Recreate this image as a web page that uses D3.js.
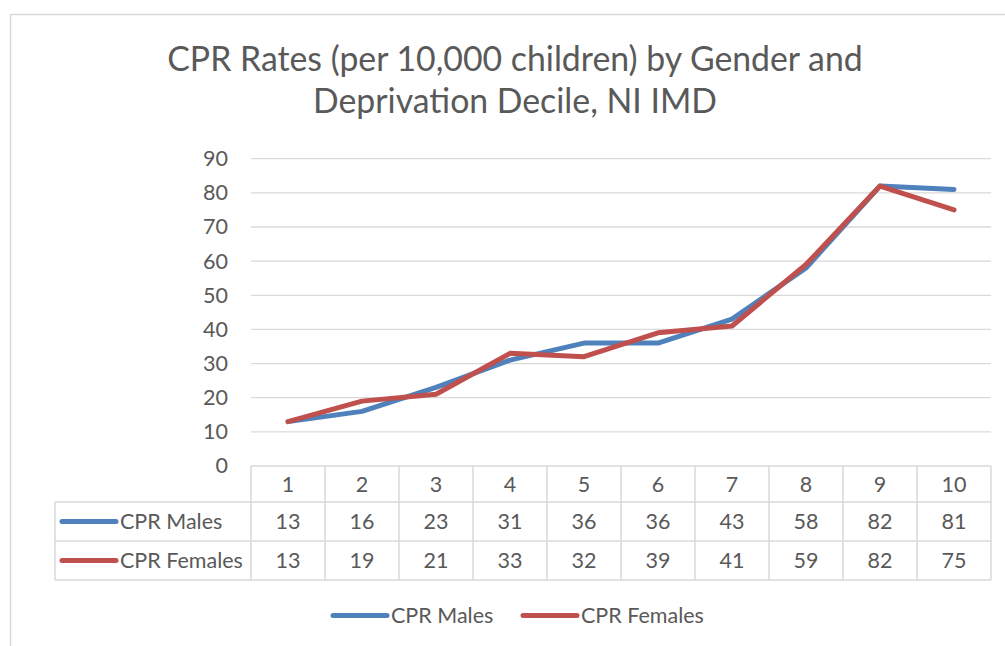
<!DOCTYPE html>
<html><head><meta charset="utf-8">
<script src="https://cdn.jsdelivr.net/npm/d3@7"></script>
<style>body{margin:0;background:#fff;} svg{display:block;}</style>
</head><body>
<svg id="chart" width="1005" height="646"></svg>
<script>
const categories = ["1","2","3","4","5","6","7","8","9","10"];
const males = [13,16,23,31,36,36,43,58,82,81];
const females = [13,19,21,33,32,39,41,59,82,75];
const seriesNames = ["CPR Males","CPR Females"];
const seriesColors = ["#4F81BD","#C0504D"];
const yTicks = [0,10,20,30,40,50,60,70,80,90];
const titleLines = ["CPR Rates (per 10,000 children) by Gender and","Deprivation Decile, NI IMD"];

(function(){
const svg = d3.select("#chart");
const font = "Lato, 'Open Sans', sans-serif";
const textColor = "#595959";
const gridColor = "#D9D9D9";
const fs = 21.5;

// frame
svg.append("rect").attr("x",10.5).attr("y",14.5).attr("width",1200).attr("height",1000)
  .attr("fill","#fff").attr("stroke",gridColor).attr("stroke-width",1.5);

const pLeft = 251, pRight = 991, pTop = 158.7, pBottom = 466;
const x = d3.scaleBand().domain(categories).range([pLeft,pRight]);
const y = d3.scaleLinear().domain([0,90]).range([pBottom,pTop]);
const cx = d => x(d) + x.bandwidth()/2;

// title
svg.append("g").selectAll("text").data(titleLines).join("text")
  .attr("x",515).attr("y",(d,i)=>70.7+i*42).attr("text-anchor","middle")
  .attr("font-family",font).attr("font-size",33.8).attr("fill",textColor).text(d=>d);

// gridlines
svg.append("g").selectAll("line").data(yTicks.filter(t=>t>0)).join("line")
  .attr("x1",pLeft).attr("x2",pRight).attr("y1",d=>y(d)).attr("y2",d=>y(d))
  .attr("stroke",gridColor).attr("stroke-width",1.3);

// y axis labels
const yAxis = d3.axisLeft(y).tickValues(yTicks).tickSize(0).tickPadding(23);
const ga = svg.append("g").attr("transform",`translate(${pLeft},0)`).call(yAxis);
ga.select(".domain").remove();
ga.selectAll("text").attr("font-family",font).attr("font-size",fs).attr("fill",textColor);

// table
const rowTop = [466,502,541,580];
const tbl = svg.append("g").attr("stroke",gridColor).attr("stroke-width",1.5).attr("fill","none");
tbl.append("line").attr("x1",pLeft).attr("x2",pRight).attr("y1",rowTop[0]).attr("y2",rowTop[0]);
[1,2,3].forEach(i=>tbl.append("line").attr("x1",55).attr("x2",pRight).attr("y1",rowTop[i]).attr("y2",rowTop[i]));
const colEdges = categories.map(c=>x(c)).concat([pRight]);
tbl.selectAll("line.v").data(colEdges).join("line").attr("class","v")
  .attr("x1",d=>d).attr("x2",d=>d).attr("y1",rowTop[0]).attr("y2",rowTop[3]);
tbl.append("line").attr("x1",55).attr("x2",55).attr("y1",rowTop[1]).attr("y2",rowTop[3]);

const cellText = (sel)=>sel.attr("font-family",font).attr("font-size",fs).attr("fill",textColor)
  .attr("text-anchor","middle").attr("dy","0.35em");
svg.append("g").selectAll("text").data(categories).join("text")
  .attr("x",cx).attr("y",(rowTop[0]+rowTop[1])/2).text(d=>d).call(cellText);
[males,females].forEach((vals,si)=>{
  const yc = (rowTop[si+1]+rowTop[si+2])/2;
  svg.append("g").selectAll("text").data(vals).join("text")
    .attr("x",(d,i)=>cx(categories[i])).attr("y",yc).text(d=>d).call(cellText);
  svg.append("line").attr("x1",62).attr("x2",116).attr("y1",yc).attr("y2",yc)
    .attr("stroke",seriesColors[si]).attr("stroke-width",5).attr("stroke-linecap","round");
  svg.append("text").attr("x",120).attr("y",yc).attr("dy","0.35em")
    .attr("font-family",font).attr("font-size",fs).attr("fill",textColor).text(seriesNames[si]);
});

// lines
const line = d3.line().x((d,i)=>cx(categories[i])).y(d=>y(d));
[males,females].forEach((vals,si)=>{
  svg.append("path").datum(vals).attr("d",line).attr("fill","none")
    .attr("stroke",seriesColors[si]).attr("stroke-width",5)
    .attr("stroke-linecap","round").attr("stroke-linejoin","round");
});

// legend
const legX = [333,523];
seriesNames.forEach((n,i)=>{
  svg.append("line").attr("x1",legX[i]).attr("x2",legX[i]+54).attr("y1",615.5).attr("y2",615.5)
    .attr("stroke",seriesColors[i]).attr("stroke-width",5).attr("stroke-linecap","round");
  svg.append("text").attr("x",legX[i]+58).attr("y",615.5).attr("dy","0.35em")
    .attr("font-family",font).attr("font-size",fs).attr("fill",textColor).text(n);
});
})();
</script>
</body></html>
